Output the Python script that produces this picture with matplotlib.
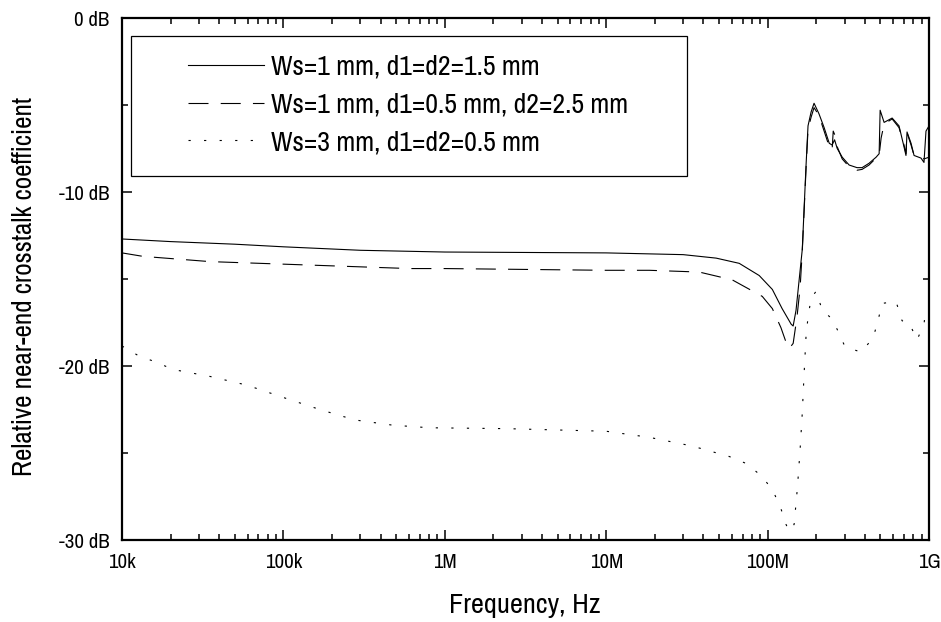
import numpy as np
import matplotlib
matplotlib.use("Agg")
import matplotlib.pyplot as plt
from matplotlib import font_manager
from matplotlib.patches import Rectangle
from matplotlib.ticker import LogLocator, NullFormatter, MultipleLocator

# narrow sans, like the original
names = {f.name for f in font_manager.fontManager.ttflist}
fam = [n for n in ['Archivo Narrow', 'Roboto Condensed', 'PT Sans Narrow', 'Liberation Sans'] if n in names]
plt.rcParams['font.family'] = fam[:1] + ['DejaVu Sans']

# data (frequency in Hz, level in dB)
f_a = [1e4, 2e4, 5e4, 1e5, 3e5, 1e6, 1e7, 3e7, 4.8e7, 6.67e7, 8.87e7, 1.07e8, 1.23e8,
       1.40e8, 1.44e8, 1.50e8, 1.64e8, 1.73e8, 1.78e8, 1.86e8, 1.94e8, 2.08e8, 2.24e8,
       2.41e8, 2.51e8, 2.6e8, 2.7e8, 2.9e8, 3.2e8, 3.58e8, 3.85e8, 4.25e8, 4.7e8, 4.91e8,
       4.98e8, 5.27e8, 5.91e8, 6.52e8, 7.0e8, 7.2e8, 7.31e8, 7.74e8, 8.08e8, 8.92e8,
       9.31e8, 9.58e8, 1e9]
db_a = [-12.7, -12.85, -13.0, -13.15, -13.35, -13.45, -13.5, -13.6, -13.8, -14.1, -14.8,
        -15.6, -16.7, -17.6, -17.7, -16.8, -13.3, -8.5, -6.2, -5.4, -4.9, -5.5, -6.3,
        -7.2, -7.3, -7.0, -7.5, -8.0, -8.45, -8.6, -8.6, -8.35, -8.0, -7.8,
        -5.3, -6.0, -5.75, -6.2, -7.4, -7.9, -6.55, -7.2, -7.9, -8.05,
        -8.3, -6.5, -6.2]

f_b = [1e4, 1.35e4, 3.5e4, 1.46e5, 6.05e5, 1e6, 1e7, 1.85e7, 3.77e7, 6.04e7, 9.27e7,
       1.07e8, 1.21e8, 1.32e8, 1.36e8, 1.44e8, 1.52e8, 1.59e8, 1.64e8, 1.73e8, 1.78e8,
       1.86e8, 1.94e8, 2.08e8, 2.24e8, 2.41e8, 2.51e8, 2.55e8, 2.63e8, 2.7e8, 2.9e8,
       3.2e8, 3.58e8, 3.85e8, 4.25e8, 4.7e8, 4.91e8, 5.05e8, 5.27e8, 5.91e8, 6.52e8,
       7.0e8, 7.2e8, 7.31e8, 7.74e8, 8.08e8, 8.92e8, 9.31e8, 1e9]
db_b = [-13.5, -13.7, -14.0, -14.2, -14.4, -14.4, -14.5, -14.5, -14.6, -15.05, -16.0,
        -16.7, -17.8, -18.8, -19.0, -18.7, -17.2, -15.5, -13.4, -8.7, -6.4,
        -5.7, -5.15, -5.6, -6.5, -7.4, -7.6, -6.5, -6.8, -7.4, -8.1,
        -8.55, -8.75, -8.7, -8.45, -8.05, -7.9, -6.9, -6.1, -5.8, -6.3,
        -7.3, -7.8, -6.6, -7.3, -7.9, -8.0, -8.1, -8.0]

f_c = [1e4, 1.26e4, 1.65e4, 2.07e4, 3.51e4, 5.94e4, 9.92e4, 1.68e5, 2.77e5, 4.75e5,
       8.05e5, 2.41e6, 1e7, 1.85e7, 3.41e7, 5.78e7, 7.36e7, 9.12e7, 1.07e8, 1.20e8,
       1.30e8, 1.36e8, 1.46e8, 1.53e8, 1.59e8, 1.64e8, 1.68e8, 1.73e8, 1.78e8, 1.86e8,
       2.0e8, 2.18e8, 2.48e8, 2.70e8, 3.02e8, 3.79e8, 4.50e8, 4.83e8, 5.12e8, 6.25e8,
       6.81e8, 7.52e8, 8.43e8, 9.31e8, 9.58e8]
db_c = [-18.85, -19.4, -19.8, -20.2, -20.6, -21.1, -21.8, -22.5, -23.1, -23.4,
        -23.55, -23.6, -23.75, -24.1, -24.6, -25.2, -25.6, -26.3, -27.1, -28.1,
        -29.1, -29.5, -29.1, -27.0, -24.8, -22.7, -20.6, -18.3, -17.2, -16.1,
        -15.7, -16.8, -17.25, -17.9, -18.9, -19.2, -18.4, -17.4, -16.4, -16.3,
        -17.4, -17.5, -18.5, -17.6, -16.6]

labels = ['Ws=1 mm, d1=d2=1.5 mm', 'Ws=1 mm, d1=0.5 mm, d2=2.5 mm', 'Ws=3 mm, d1=d2=0.5 mm']
xticks = [1e4, 1e5, 1e6, 1e7, 1e8, 1e9]
xticklabels = ['10k', '100k', '1M', '10M', '100M', '1G']
yticks = [-30, -20, -10, 0]
yticklabels = ['-30 dB', '-20 dB', '-10 dB', '0 dB']

W, H = 941, 622
fig = plt.figure(figsize=(W / 100, H / 100), dpi=100)
ax = fig.add_axes([122 / W, 1 - 540 / H, 807 / W, 522 / H])

lw = 0.8
la, = ax.plot(f_a, db_a, color='black', lw=lw, label=labels[0])
lb, = ax.plot(f_b, db_b, color='black', lw=lw, linestyle=(0, (18, 11)), label=labels[1])
lc, = ax.plot(f_c, db_c, color='black', lw=lw, linestyle=(0, (2, 12)), label=labels[2])

ax.set_xscale('log')
ax.set_xlim(1e4, 1e9)
ax.set_ylim(-30, 0)
ax.set_xticks(xticks)
ax.set_xticklabels(xticklabels)
ax.xaxis.set_minor_locator(LogLocator(base=10, subs=np.arange(2, 10)))
ax.xaxis.set_minor_formatter(NullFormatter())
ax.set_yticks(yticks)
ax.set_yticklabels(yticklabels)
ax.yaxis.set_minor_locator(MultipleLocator(5))

for s in ax.spines.values():
    s.set_linewidth(1.6)
ax.tick_params(which='both', direction='in', top=True, right=True, width=1.1)
ax.tick_params(which='major', length=7.5, labelsize=15)
ax.tick_params(axis='x', which='major', pad=9)
ax.tick_params(axis='y', which='major', pad=9)
ax.tick_params(which='minor', length=4)

fig.text(525 / W, 1 - 605 / H, 'Frequency, Hz', ha='center', va='center', fontsize=20.4)
fig.text(25 / W, 1 - 287 / H, 'Relative near-end crosstalk coefficient', ha='center',
         va='center', rotation=90, fontsize=19.5)

# legend with its own frame
ax.add_patch(Rectangle(((131 - 122) / 807, (540 - 176) / 522), (687 - 131) / 807, 140 / 522,
                       transform=ax.transAxes, fill=False, edgecolor='black', lw=0.9, zorder=3))
ax.legend(handles=[la, lb, lc], loc='upper left',
          bbox_to_anchor=((188 - 122) / 807, (540 - 55) / 522), frameon=False,
          fontsize=20, handlelength=2.73, handletextpad=0.25, labelspacing=0.45,
          borderpad=0, borderaxespad=0)

fig.savefig('out.png', dpi=100)
